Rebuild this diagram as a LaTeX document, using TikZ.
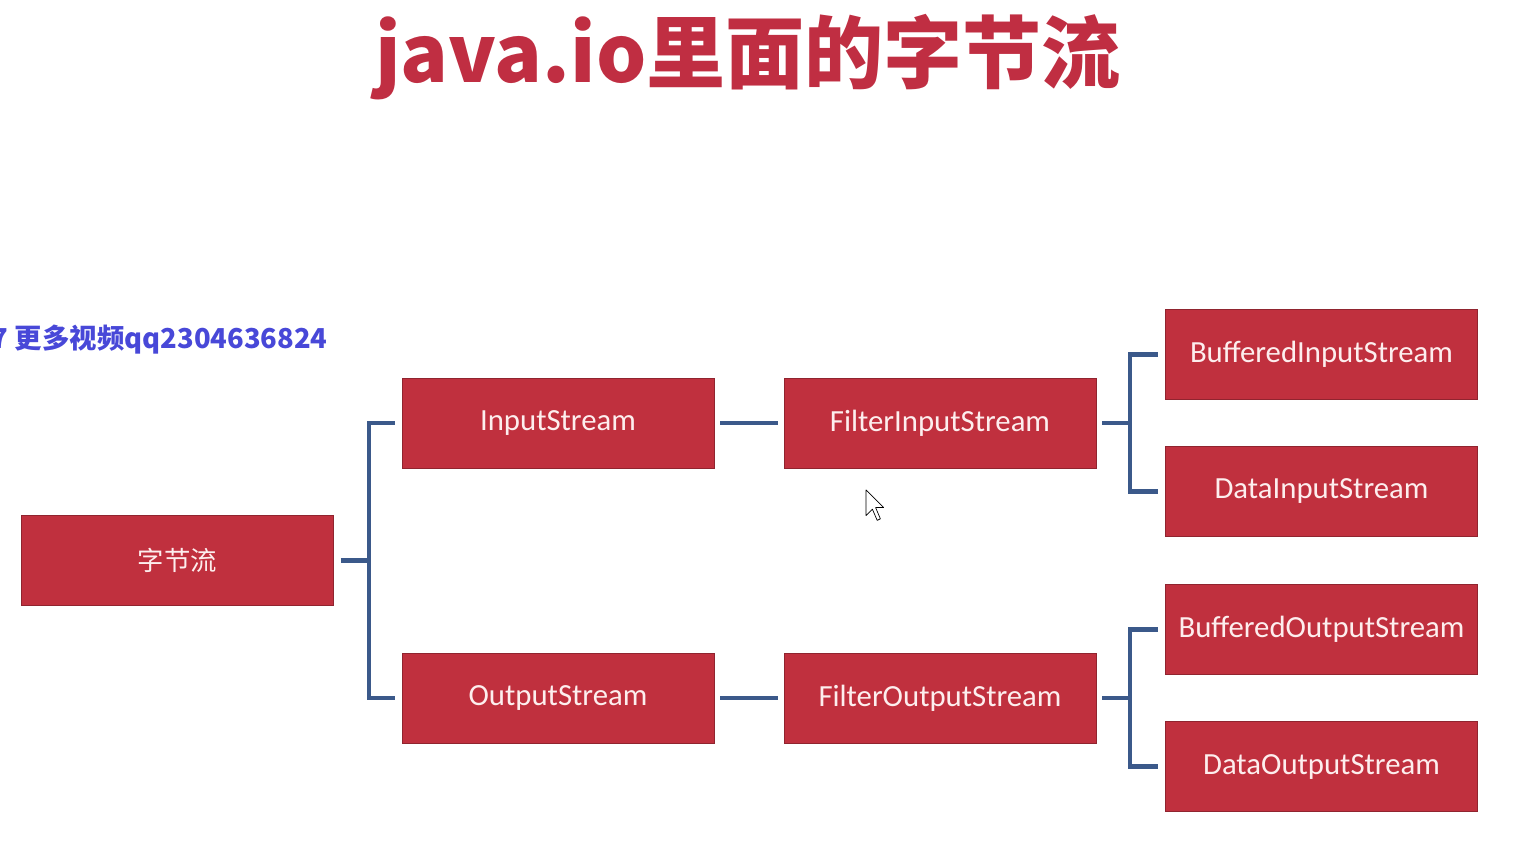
\documentclass[tikz,border=0pt]{standalone}
\usepackage{fontspec}
\setmainfont{Carlito}
\newfontfamily\cjkfont{Noto Sans CJK SC}
\usepackage{tikz}
\usetikzlibrary{positioning}
\definecolor{boxred}{RGB}{192,48,62}
\definecolor{boxtext}{RGB}{253,238,238}
\definecolor{titlered}{RGB}{192,46,66}
\definecolor{linkblue}{RGB}{59,89,138}
\definecolor{markblue}{RGB}{72,72,216}
\tikzstyle{stream}=[rectangle, fill=boxred, draw=boxred!75!black, minimum width=6.24cm, minimum height=1.8cm, text=boxtext, font=\fontsize{17.5}{21}\selectfont]
\tikzstyle{connect}=[line width=2.3pt, linkblue]

\begin{document}
\begin{tikzpicture}[on grid]
\useasboundingbox (0,0) rectangle (30.26,16.94);
\clip (0,0) rectangle (30.26,16.94);

\node[text=titlered, font=\cjkfont\bfseries\fontsize{45}{50}\selectfont] (title) at (14.96,15.8) {java.io里面的字节流};
\node[anchor=east, text=markblue, font=\cjkfont\bfseries\fontsize{15.6}{18}\selectfont, inner sep=0pt] (watermark) at (6.56,10.14) {7 更多视频qq2304636824};

\node[stream] (byte_stream) at (3.55,5.73) {\cjkfont\fontsize{15}{18}\selectfont 字节流};

\node[stream] (in_stream) [above right=2.75cm and 7.61cm of byte_stream] {InputStream};
\node[stream] (out_stream) [below right=2.75cm and 7.61cm of byte_stream] {OutputStream};

\node[stream] (filter_in) [right=7.64cm of in_stream] {FilterInputStream};
\node[stream] (filter_out) [right=7.64cm of out_stream] {FilterOutputStream};

\node[stream] (buf_in) [above right=1.37cm and 7.63cm of filter_in] {BufferedInputStream};
\node[stream] (data_in) [below right=1.37cm and 7.63cm of filter_in] {DataInputStream};
\node[stream] (buf_out) [above right=1.37cm and 7.63cm of filter_out] {BufferedOutputStream};
\node[stream] (data_out) [below right=1.37cm and 7.63cm of filter_out] {DataOutputStream};

\begin{scope}[connect]
    \draw ([xshift=0.14cm]byte_stream.east) -- ++(0.56,0) |- ([xshift=-0.14cm]in_stream.west);
    \draw ([xshift=0.14cm]byte_stream.east) -- ++(0.56,0) |- ([xshift=-0.14cm]out_stream.west);

    \draw ([xshift=0.12cm]in_stream.east) -- ([xshift=-0.12cm]filter_in.west);
    \draw ([xshift=0.12cm]out_stream.east) -- ([xshift=-0.12cm]filter_out.west);

    \draw ([xshift=0.12cm]filter_in.east) -- ++(0.56,0) |- ([xshift=-0.14cm]buf_in.west);
    \draw ([xshift=0.12cm]filter_in.east) -- ++(0.56,0) |- ([xshift=-0.14cm]data_in.west);
    \draw ([xshift=0.12cm]filter_out.east) -- ++(0.56,0) |- ([xshift=-0.14cm]buf_out.west);
    \draw ([xshift=0.12cm]filter_out.east) -- ++(0.56,0) |- ([xshift=-0.14cm]data_out.west);
\end{scope}

% mouse pointer
\coordinate (cursor_tip) at (17.32,7.14);
\draw[fill=white, thin, line join=round, shift={(cursor_tip)}]
    (0,0) -- (0,-0.512) -- (0.128,-0.384) -- (0.224,-0.608) -- (0.288,-0.576) -- (0.192,-0.352) -- (0.352,-0.352) -- cycle;

\end{tikzpicture}
\end{document}
